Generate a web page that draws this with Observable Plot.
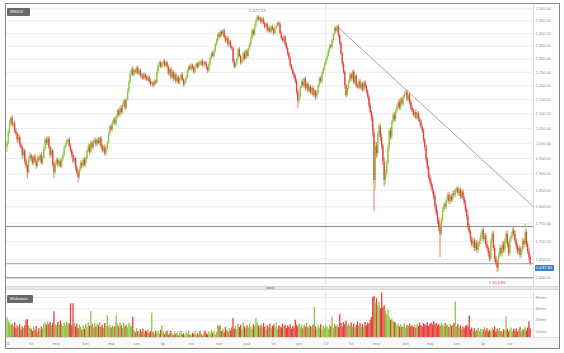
<!DOCTYPE html>
<html><head><meta charset="utf-8">
<script src="https://cdn.jsdelivr.net/npm/d3@7"></script>
<script src="https://cdn.jsdelivr.net/npm/@observablehq/plot@0.6"></script>
<style>
html,body{margin:0;padding:0;background:#fff;}
#wrap{position:relative;width:564px;height:353px;overflow:hidden;font-family:"Liberation Sans",Arial,sans-serif;}
.abs{position:absolute;}
#sep{left:6px;top:286px;width:553px;height:4px;background:#e9e9e9;border-top:1px solid #d6d6d6;border-bottom:1px solid #d6d6d6;box-sizing:border-box;}
#handle{left:266px;top:287px;width:9px;height:2px;background:#b9b9b9;}
#xstrip{left:6px;top:337px;width:553px;height:11px;background:#f8f8f8;border-top:1px solid #dcdcdc;box-sizing:border-box;}
#frame{left:5px;top:3px;width:555px;height:346px;border:1.5px solid #858585;box-sizing:border-box;pointer-events:none;}
.tag{background:#6a6a6a;color:#fff;font-size:4.2px;line-height:7.5px;height:7.5px;padding-left:3px;box-sizing:border-box;border-radius:1px;}
#price{left:0;top:0;}
#vol{left:0;top:291px;}
#last{background:#3b7fc4;color:#fff;font-size:4.2px;line-height:5.6px;height:5.6px;width:19px;text-align:center;}
</style></head>
<body>
<div id="wrap">
  <div id="sep" class="abs"></div>
  <div id="handle" class="abs"></div>
  <div id="xstrip" class="abs"></div>
  <div id="price" class="abs"></div>
  <div id="vol" class="abs"></div>
  <div id="t1" class="abs tag" style="left:7px;top:8px;width:23px;">WIG20</div>
  <div id="t2" class="abs tag" style="left:7px;top:295px;width:26px;">Wolumen</div>
  <div id="last" class="abs"></div>
  <div id="frame" class="abs"></div>
</div>
<script>
const monthLabels = ["'21","lut","mar","kwi","maj","cze","lip","sie","wrz","paź","lis","gru","'22","lut","mar","kwi","maj","cze","lip","sie"];
const monthDays   = [19,20,23,20,20,21,22,22,22,21,20,21,20,20,23,19,21,21,21,22];
const priceTicks  = [1600,1650,1700,1750,1800,1850,1900,1950,2000,2050,2100,2150,2200,2250,2300,2350,2400,2450,2500];
const volumeTicks = [20,40,60,80];
const firstOpen = 1985;
const close = [
2000,2035,2070,2085,2060,2065,2040,2030,2010,2020,
1995,1985,1960,1975,1940,1925,1905,1945,1960,1950,
1935,1955,1940,1925,1950,1945,1960,1935,1950,1980,
2010,2000,2015,1985,1960,1975,1930,1905,1935,1945,
1930,1940,1925,1945,1960,1985,1995,2005,2010,1990,
1975,1960,1940,1950,1920,1905,1890,1915,1935,1925,
1945,1930,1950,1975,1990,1970,2000,1985,2005,2010,
1995,2010,2000,2015,1990,1975,1985,1965,1980,2000,
2030,2055,2045,2070,2080,2065,2090,2110,2095,2120,
2105,2130,2145,2120,2150,2180,2215,2245,2260,2240,
2255,2250,2265,2245,2255,2235,2240,2225,2240,2230,
2220,2230,2215,2205,2210,2200,2215,2210,2250,2275,
2285,2270,2280,2290,2275,2285,2270,2245,2260,2230,
2250,2225,2240,2215,2230,2210,2225,2240,2220,2205,
2215,2230,2255,2270,2260,2275,2265,2250,2270,2280,
2270,2285,2280,2290,2275,2285,2280,2265,2255,2280,
2305,2320,2310,2330,2355,2370,2395,2385,2405,2395,
2410,2385,2370,2380,2355,2365,2345,2340,2290,2270,
2280,2300,2335,2310,2285,2295,2320,2300,2330,2310,
2340,2355,2380,2410,2395,2430,2450,2465,2455,2460,
2445,2455,2440,2425,2435,2410,2420,2405,2425,2415,
2400,2420,2430,2440,2435,2400,2380,2370,2385,2355,
2340,2320,2300,2275,2260,2245,2235,2215,2180,2145,
2160,2195,2215,2200,2225,2190,2205,2180,2195,2175,
2190,2165,2180,2160,2175,2200,2225,2215,2245,2260,
2280,2295,2310,2330,2350,2345,2370,2395,2420,2410,
2425,2390,2360,2320,2280,2250,2200,2165,2190,2215,
2240,2225,2250,2210,2235,2200,2195,2215,2190,2205,
2185,2210,2195,2180,2160,2130,2105,2085,2035,1880,
1990,1965,2030,2055,2020,1990,1940,1880,1900,1935,
1985,2040,2020,2070,2095,2080,2110,2125,2140,2120,
2150,2135,2160,2170,2175,2150,2165,2140,2120,2110,
2095,2105,2085,2100,2080,2070,2055,2040,2010,1985,
1945,1920,1890,1875,1860,1845,1830,1800,1780,1760,
1740,1720,1760,1790,1805,1800,1820,1835,1815,1830,
1820,1840,1835,1850,1855,1840,1850,1830,1845,1825,
1810,1790,1770,1740,1725,1705,1690,1700,1680,1695,
1675,1690,1700,1715,1730,1705,1715,1690,1680,1665,
1650,1700,1720,1680,1650,1640,1625,1660,1680,1665,
1690,1675,1700,1720,1690,1665,1705,1715,1730,1720,
1700,1685,1670,1680,1660,1675,1700,1690,1725,1690,
1670,1655,1637.82];
const wickUp = [
8,10,12,6,9,7,10,8,6,9, 7,8,6,9,5,7,6,8,10,6, 8,6,9,5,8,7,6,9,7,10, 6,9,7,8,5,10,6,7,8,6,
7,5,8,6,9,6,8,7,6,9, 8,6,9,7,5,8,6,9,7,8, 6,8,7,5,9,6,8,7,6,8, 7,6,9,5,8,6,7,9,6,8,
8,6,9,7,6,8,7,5,9,6, 9,7,6,8,7,9,6,8,7,9, 6,8,7,9,5,8,6,7,9,6, 7,9,6,8,7,5,8,6,9,7,
6,8,7,5,9,6,8,7,6,9, 8,6,9,7,5,8,7,6,9,7, 7,5,8,6,9,7,6,8,5,7, 6,8,7,5,9,6,7,8,6,9,
8,6,9,7,6,8,5,9,7,6, 5,8,6,9,7,6,8,7,6,9, 7,6,8,9,5,7,6,8,7,6, 8,7,6,9,7,6,8,7.33,6,5,
7,6,9,5,8,7,6,9,5,8, 6,8,7,5,6,8,7,6,9,7, 8,7,6,9,5,8,7,6,9,8, 7,6,9,8,5,7,6,9,7,8,
6,9,7,5,8,6,7,9,6,8, 7,6,8,9,6,7,8,5,7,6, 5,9,7,8,6,9,7,8,6,7, 8,6,7,9,5,8,6,7,9,6,
7,6,9,8,6,7,9,8,10,12, 15,12,10,14,9,11,8,12,15,10, 10,8,12,9,8,10,7,9,8,10, 7,9,6,8,8,9,6,8,7,9,
8,7,9,6,8,7,9,6,8,7, 9,8,7,10,8,9,7,8,9,10, 8,10,9,8,7,9,8,7,9,8, 7,8,9,6,5,8,7,9,6,8,
8,9,7,8,9,7,8,9,8,7, 8,7,9,8,5,9,7,8,9,7, 7,9,8,7,8,9,7,8,9,7, 8,9,7,8,9,7,8,9,7,8,
9,7,8,9,7,8,9,7,25,8, 8,9,7];
const wickDown = [
15,6,5,8,6,9,7,6,10,8, 8,6,12,7,9,8,19,6,7,9, 7,9,6,10,5,8,7,6,9,5, 5,8,7,6,9,5,8,19,6,8,
9,7,6,8,5,7,6,8,7,5, 7,9,6,8,10,7,17,6,8,7, 8,6,9,7,6,10,5,8,7,6, 6,8,5,9,7,8,6,7,9,5,
5,7,6,8,9,6,8,7,6,9, 6,8,7,9,6,5,8,6,9,7, 8,6,9,5,8,7,9,6,5,8, 6,5,8,7,9,8,6,7,5,8,
7,6,9,8,6,7,5,9,8,6, 6,9,5,8,7,6,8,7,5,9, 8,7,6,9,5,8,7,6,9,6, 9,6,8,7,6,9,5,7,10,6,
6,8,5,9,7,6,8,7,6,9, 7,6,9,5,8,7,6,9,8,7, 6,9,7,5,8,6,9,7,5,8, 6,8,7,5,9,6,7,8,6,9,
8,7,6,9,5,8,7,6,9,7, 9,6,8,7,9,5,8,7,6,8, 6,9,7,8,6,7,9,8,10,25, 9,7,6,8,7,9,5,8,6,7,
8,6,9,13,7,8,6,7,9,5, 6,8,7,5,9,6,7,8,6,9, 8,6,9,7,10,8,12,9,6,8, 6,9,8,6,7,9,8,6,7,8,
8,7,6,9,8,10,9,12,15,95, 30,14,10,12,15,10,14,20,12,10, 9,10,8,11,9,8,10,7,9,8, 8,6,9,7,6,8,7,9,8,6,
7,9,6,8,7,9,6,8,9,10, 10,9,8,7,9,8,10,9,8,12, 12,65,8,9,7,8,9,7,8,9, 8,7,6,9,8,7,9,8,7,6,
7,8,9,10,8,9,7,8,9,8, 9,8,7,9,8,7,9,8,7,9, 8,7,9,8,9,8,11.14,8,7,9, 7,8,9,7,8,9,7,8,9,7,
8,9,7,8,9,7,8,9,7,8, 7,8,6];
const volume = [
44,38,35,30,33,28,36,25,30,27, 32,22,28,25,30,40,41,30,26,24, 20,27,22,29,18,25,21,28,24,33,
35,31,37,33,36,30,34,55,32,30, 36,31,38,33,29,35,30,37,32,34, 69,30,69,35,28,33,25,31,27,22,
30,24,33,27,35,29,55,32,26,34, 28,33,30,35,27,31,25,34,29,48, 28,31,26,30,27,29,48,33,28,35,
30,26,34,29,32,27,35,30,28,45, 22,18,25,20,16,23,19,24,17,21, 19,23,17,20,52,18,15,21,17,20,
16,22,30,19,15,18,21,14,17,20, 16,13,19,15,18,12,17,20,14,16, 13,18,15,20,14,12,17,15,19,13,
16,14,20,15,12,18,21,16,14,19, 15,22,17,20,14,18,30,29,31,20, 24,18,27,22,19,25,21,26,43,24,
29,23,33,27,31,22,35,28,25,30, 26,33,28,24,32,29,43,35,30,27, 31,26,34,28,23,30,27,33,25,29,
32,27,35,24,30,28,26,33,29,31, 25,30,27,32,24,29,26,40,31,28, 33,27,30,25,32,28,35,26,30,29,
27,31,63,28,24,30,26,32,23,29, 25,30,27,24,31,28,45,26,33,29, 31,27,50,34,28,36,32,38,29,33,
30,35,28,33,26,31,37,29,34,27, 32,28,36,30,35,33,40,45,80,82, 70,78,65,72,60,88,62,66,55,50,
58,45,40,42,38,36,35,30,33,28, 32,27,30,34,26,31,29,33,28,30, 27,31,26,33,29,35,30,28,34,32,
30,36,29,33,35,31,37,32,34,30, 33,29,35,31,28,34,30,32,27,33, 29,31,34,72,28,32,26,30,24,28,
25,29,31,27,48,23,26,21,25,19, 22,26,20,24,18,23,27,21,25,19, 23,20,26,22,28,19,24,21,25,20,
18,23,21,46,24,19,22,26,20,24, 21,25,19,23,27,20,24,22,28,21, 26,37,25];
const supportLevels = [1742, 1600];
const lastPrice = 1637.82;
const trendline = [{i: 259, v: 2432}, {i: 414.6, v: 1800}];

const GREEN = "#8cc63e", RED = "#e5403b", AXIS = "#8d8d8d";
const fmt = d3.format(",.2f");
const candles = close.map((c, i) => {
  const o = i === 0 ? firstOpen : close[i - 1];
  return {i, open: o, close: c, high: Math.max(o, c) + wickUp[i], low: Math.min(o, c) - wickDown[i],
          volume: volume[i], col: c >= o ? GREEN : RED};
});
let acc = 0;
const monthStarts = monthDays.map(d => { const s = acc; acc += d; return s; });
const labelOf = new Map(monthStarts.map((s, k) => [s, monthLabels[k]]));
const yearLine = [monthStarts[12]];
const xDomain = [-0.4, 414.6];
const hi = candles.reduce((a, b) => b.high > a.high ? b : a);
const lo = candles.reduce((a, b) => b.low < a.low ? b : a);
const font = "Liberation Sans, Arial, sans-serif";

const price = Plot.plot({
  width: 564, height: 287, marginLeft: 6, marginRight: 31, marginTop: 4, marginBottom: 1,
  style: {background: "transparent", fontFamily: font, overflow: "visible"},
  x: {type: "linear", domain: xDomain, axis: null},
  y: {type: "log", domain: [1600, 2500], range: [277.3, 8.3], label: null},
  color: {type: "identity"},
  marks: [
    Plot.gridY(priceTicks, {stroke: "#ececec", strokeOpacity: 1}),
    Plot.ruleX(yearLine, {stroke: "#e4e4e4"}),
    Plot.ruleX([xDomain[1]], {stroke: "#dedede"}),
    Plot.ruleY(supportLevels, {stroke: "#7d7d7d", strokeWidth: 0.9}),
    Plot.ruleY([lastPrice], {stroke: "#8a8a8a", strokeWidth: 0.8}),
    Plot.line(trendline, {x: "i", y: "v", stroke: "#9c9c9c", strokeWidth: 0.9}),
    Plot.ruleX(candles, {x: "i", y1: "low", y2: "high", stroke: "col", strokeWidth: 0.7}),
    Plot.ruleX(candles, {x: "i", y1: "open", y2: "close", stroke: "col", strokeWidth: 1.3}),
    Plot.axisY(priceTicks, {anchor: "right", tickSize: 0, tickPadding: 2, tickFormat: fmt, fontSize: 4, color: AXIS, label: null}),
    Plot.text([hi], {x: "i", y: "high", text: d => fmt(d.high), dy: -5, fill: "#6fae3a", fontSize: 4.3}),
    Plot.text([lo], {x: "i", y: "low", text: d => fmt(d.low), dy: 10, fill: RED, fontSize: 4.3})
  ]
});
document.getElementById("price").appendChild(price);

const vol = Plot.plot({
  width: 564, height: 57, marginLeft: 6, marginRight: 31, marginTop: 0, marginBottom: 11,
  style: {background: "transparent", fontFamily: font, overflow: "visible"},
  x: {type: "linear", domain: xDomain, label: null},
  y: {domain: [20, 80], range: [40, 6], label: null},
  color: {type: "identity"},
  marks: [
    Plot.gridY(volumeTicks, {stroke: "#ededed", strokeOpacity: 1}),
    Plot.ruleX(yearLine, {stroke: "#e4e4e4"}),
    Plot.ruleX([xDomain[1]], {stroke: "#dedede"}),
    Plot.ruleX(candles, {x: "i", y1: 0, y2: "volume", stroke: "col", strokeWidth: 1.3, clip: true}),
    Plot.axisY(volumeTicks, {anchor: "right", tickSize: 0, tickPadding: 2, tickFormat: d => d + "mln", fontSize: 4, color: AXIS, label: null}),
    Plot.axisX(monthStarts, {anchor: "bottom", tickSize: 0, tickPadding: 5, tickFormat: d => labelOf.get(d), fontSize: 4, color: AXIS, label: null})
  ]
});
document.getElementById("vol").appendChild(vol);

const ys = price.scale("y");
const box = document.getElementById("last");
box.textContent = fmt(lastPrice);
box.style.left = "534.5px";
box.style.top = (ys.apply(lastPrice) + 4.7 - 2.8) + "px";
</script>
</body></html>
